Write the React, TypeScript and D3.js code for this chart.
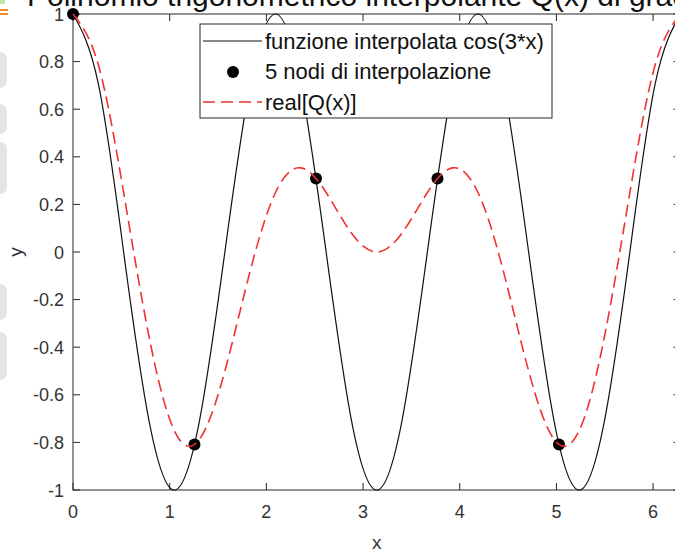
import React from "react";
import * as d3 from "d3";

// Sample abscissae (step pi/12 over [0, 2*pi])
const sampleX = [
  0, 0.2618, 0.5236, 0.7854, 1.0472, 1.309, 1.5708, 1.8326, 2.0944, 2.3562,
  2.618, 2.8798, 3.1416, 3.4034, 3.6652, 3.927, 4.1888, 4.4506, 4.7124,
  4.9742, 5.236, 5.4978, 5.7596, 6.0214, 6.2832,
];
// cos(3*x) at the sample abscissae
const cosValues = [
  1, 0.7071, 0, -0.7071, -1, -0.7071, 0, 0.7071, 1, 0.7071, 0, -0.7071, -1,
  -0.7071, 0, 0.7071, 1, 0.7071, 0, -0.7071, -1, -0.7071, 0, 0.7071, 1,
];
// real part of the trigonometric interpolant Q(x)
const realQValues = [
  1, 0.7866, 0.25, -0.3536, -0.75, -0.7866, -0.5, -0.0795, 0.25, 0.3536, 0.25,
  0.0795, 0, 0.0795, 0.25, 0.3536, 0.25, -0.0795, -0.5, -0.7866, -0.75,
  -0.3536, 0.25, 0.7866, 1,
];
// interpolation nodes
const nodeX = [0, 1.2566, 2.5133, 3.7699, 5.0265];
const nodeY = [1, -0.809, 0.309, 0.309, -0.809];

const xTicks = [0, 1, 2, 3, 4, 5, 6];
const yTicks = [-1, -0.8, -0.6, -0.4, -0.2, 0, 0.2, 0.4, 0.6, 0.8, 1];

const titleText = "Polinomio trigonometrico interpolante Q(x) di grado 2";
const legendLabels = [
  "funzione interpolata cos(3*x)",
  "5 nodi di interpolazione",
  "real[Q(x)]",
];

const W = 675;
const H = 550;
const L = 73;
const R = 680.5;
const T = 14;
const B = 490;
const FONT = "'Liberation Sans', Arial, Helvetica, sans-serif";
const AXIS = "#262626";
const RED = "#f03232";

export default function App() {
  const x = d3.scaleLinear().domain([0, 2 * Math.PI]).range([L, R]);
  const y = d3.scaleLinear().domain([-1, 1]).range([B, T]);

  const line = d3
    .line<number>()
    .x((_, i) => x(sampleX[i]))
    .curve(d3.curveNatural);
  const cosPath = line.y((v) => y(v))(cosValues) || "";
  const qPath = line.y((v) => y(v))(realQValues) || "";

  const tickLen = 7;

  return (
    <svg
      width={W}
      height={H}
      style={{ position: "absolute", left: 0, top: 0, overflow: "hidden", background: "#fff" }}
    >
      <rect x={0} y={0} width={W} height={H} fill="#fff" />

      {/* faint shapes at the left margin */}
      <g fill="#e4e4e4">
        <rect x={-8} y={52} width={15} height={36} rx={7} />
        <rect x={-8} y={104} width={15} height={30} rx={7} />
        <rect x={-8} y={142} width={15} height={52} rx={7} />
        <rect x={-8} y={284} width={15} height={36} rx={7} />
        <rect x={-8} y={332} width={15} height={48} rx={7} />
      </g>
      <rect x={0} y={0} width={5} height={4} fill="#bfe6a8" />
      <rect x={0} y={9} width={8} height={2} fill="#f28c28" />
      <rect x={0} y={13} width={8} height={2} fill="#f28c28" />

      {/* title */}
      <text x={27} y={6} fontFamily={FONT} fontSize={30} fill="#111">
        {titleText}
      </text>

      {/* axes box */}
      <rect x={L} y={T} width={R - L} height={B - T} fill="none" stroke={AXIS} strokeWidth={1} />

      {/* x ticks */}
      {xTicks.map((t) => (
        <g key={`xt${t}`}>
          <line x1={x(t)} x2={x(t)} y1={B} y2={B - tickLen} stroke={AXIS} />
          <line x1={x(t)} x2={x(t)} y1={T} y2={T + tickLen} stroke={AXIS} />
          <text
            x={x(t)}
            y={518}
            textAnchor="middle"
            fontFamily={FONT}
            fontSize={18}
            fill="#333"
          >
            {t}
          </text>
        </g>
      ))}
      {/* y ticks */}
      {yTicks.map((t) => (
        <g key={`yt${t}`}>
          <line x1={L} x2={L + tickLen} y1={y(t)} y2={y(t)} stroke={AXIS} />
          <line x1={R} x2={R - tickLen} y1={y(t)} y2={y(t)} stroke={AXIS} />
          <text
            x={64}
            y={y(t) + 6.5}
            textAnchor="end"
            fontFamily={FONT}
            fontSize={18}
            fill="#333"
          >
            {String(Math.round(t * 10) / 10)}
          </text>
        </g>
      ))}

      {/* axis labels */}
      <text x={x(3.1416)} y={549} textAnchor="middle" fontFamily={FONT} fontSize={19} fill="#333">
        x
      </text>
      <text
        transform={`translate(22, ${y(0)}) rotate(-90)`}
        textAnchor="middle"
        fontFamily={FONT}
        fontSize={19}
        fill="#333"
      >
        y
      </text>

      {/* curves and nodes */}
      <path d={cosPath} fill="none" stroke="#111" strokeWidth={1.2} />
      {nodeX.map((nx, i) => (
        <circle key={`n${i}`} cx={x(nx)} cy={y(nodeY[i])} r={6} fill="#000" />
      ))}
      <path d={qPath} fill="none" stroke={RED} strokeWidth={1.6} strokeDasharray="12,6" />

      {/* legend */}
      <g>
        <rect x={200} y={24} width={352} height={94} fill="#fff" stroke={AXIS} strokeWidth={1} />
        <line x1={203} x2={262} y1={41} y2={41} stroke="#111" strokeWidth={1.2} />
        <circle cx={233} cy={72} r={6} fill="#000" />
        <line x1={203} x2={262} y1={102} y2={102} stroke={RED} strokeWidth={1.6} strokeDasharray="12,6" />
        {legendLabels.map((lab, i) => (
          <text
            key={`l${i}`}
            x={265}
            y={48.5 + i * 30.5}
            fontFamily={FONT}
            fontSize={22}
            fill="#111"
          >
            {lab}
          </text>
        ))}
      </g>
    </svg>
  );
}
